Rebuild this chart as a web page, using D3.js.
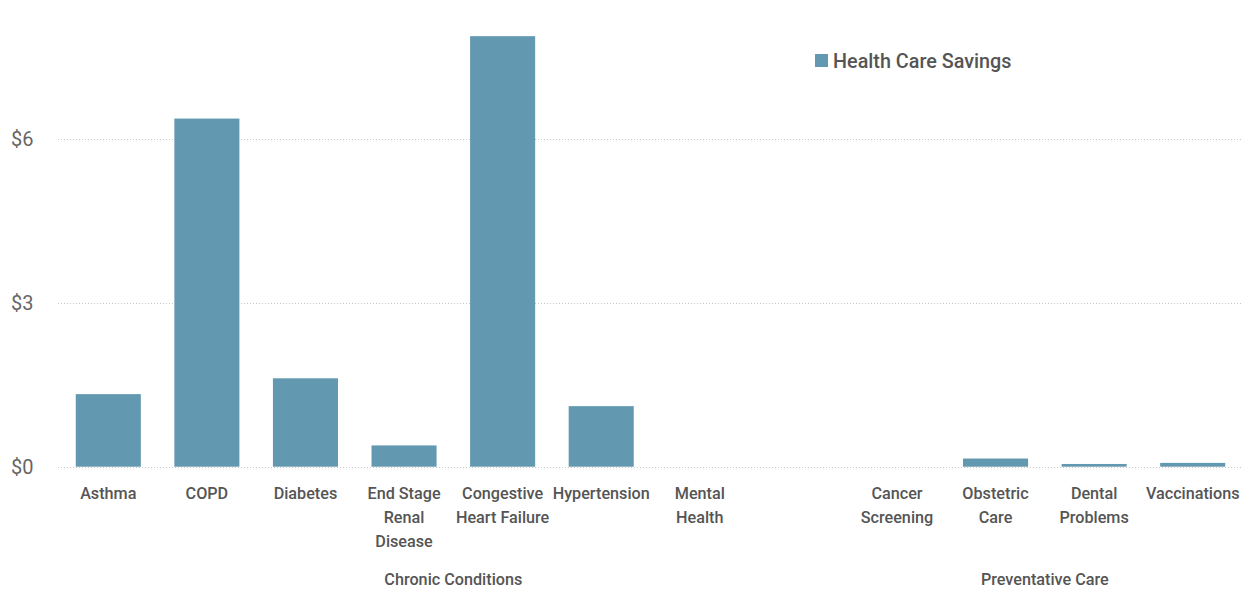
<!DOCTYPE html>
<html>
<head>
<meta charset="utf-8">
<script src="https://cdn.jsdelivr.net/npm/d3@7/dist/d3.min.js"></script>
<style>
  html, body { margin: 0; padding: 0; background: #fff; }
  svg { display: block; font-family: Roboto, "Liberation Sans", sans-serif; }
</style>
</head>
<body>
<svg id="chart" width="1251" height="590"></svg>
<script>
// Categories (an empty slot separates the two groups)
const categories = [
  "Asthma", "COPD", "Diabetes", "End Stage Renal Disease",
  "Congestive Heart Failure", "Hypertension", "Mental Health", "",
  "Cancer Screening", "Obstetric Care", "Dental Problems", "Vaccinations"
];
// How each category label breaks across lines
const categoryLines = [
  ["Asthma"], ["COPD"], ["Diabetes"], ["End Stage", "Renal", "Disease"],
  ["Congestive", "Heart Failure"], ["Hypertension"], ["Mental", "Health"], [],
  ["Cancer", "Screening"], ["Obstetric", "Care"], ["Dental", "Problems"], ["Vaccinations"]
];
// Health care savings per category (null = no bar)
const savings = [1.33, 6.38, 1.62, 0.39, 7.89, 1.11, 0, null, 0, 0.15, 0.05, 0.07];
// Group labels and the category slots they span
const groups = [
  { name: "Chronic Conditions", from: 0, to: 7 },
  { name: "Preventative Care", from: 8, to: 11 }
];
const yTicks = [0, 3, 6];
const seriesName = "Health Care Savings";

const svg = d3.select("#chart");
const color = "#6398b1";
const textColor = "#555";

const x = d3.scaleBand()
  .domain(d3.range(categories.length))
  .range([59, 1242])
  .paddingInner(0.34)
  .paddingOuter(0.17);

const y = d3.scaleLinear()
  .domain([0, 6])
  .range([466.7, 139.3]);

// Dotted gridlines
svg.append("g")
  .selectAll("line")
  .data(yTicks)
  .join("line")
  .attr("x1", 58)
  .attr("x2", 1242)
  .attr("y1", d => Math.round(y(d)) + 0.5)
  .attr("y2", d => Math.round(y(d)) + 0.5)
  .attr("stroke", "#c8c8c8")
  .attr("stroke-width", 1)
  .attr("stroke-dasharray", "1,2");

// Y tick labels
svg.append("g")
  .selectAll("text")
  .data(yTicks)
  .join("text")
  .attr("x", 11)
  .attr("y", d => y(d) + 7)
  .attr("font-size", 20)
  .attr("fill", "#666")
  .text(d => "$" + d);

// Bars
svg.append("g")
  .selectAll("rect")
  .data(savings.map((v, i) => ({ v, i })).filter(d => d.v !== null && d.v > 0))
  .join("rect")
  .attr("x", d => x(d.i))
  .attr("width", x.bandwidth())
  .attr("y", d => y(d.v))
  .attr("height", d => y(0) - y(d.v))
  .attr("fill", color);

// Category labels
const catG = svg.append("g")
  .attr("font-size", 16.2)
  .attr("font-weight", 500)
  .attr("fill", textColor)
  .attr("text-anchor", "middle");
categoryLines.forEach((lines, i) => {
  const cx = x(i) + x.bandwidth() / 2;
  lines.forEach((line, k) => {
    catG.append("text")
      .attr("x", cx)
      .attr("y", 499 + k * 24)
      .text(line);
  });
});

// Group labels
svg.append("g")
  .attr("font-size", 16.2)
  .attr("font-weight", 500)
  .attr("fill", textColor)
  .attr("text-anchor", "middle")
  .selectAll("text")
  .data(groups)
  .join("text")
  .attr("x", d => (x(d.from) + x(d.to) + x.bandwidth()) / 2)
  .attr("y", 585)
  .text(d => d.name);

// Legend
const legend = svg.append("g").attr("transform", "translate(815,54)");
legend.append("rect").attr("width", 13).attr("height", 13).attr("fill", color);
legend.append("text")
  .attr("x", 18)
  .attr("y", 13.5)
  .attr("font-size", 19.8)
  .attr("font-weight", 500)
  .attr("fill", textColor)
  .text(seriesName);
</script>
</body>
</html>
